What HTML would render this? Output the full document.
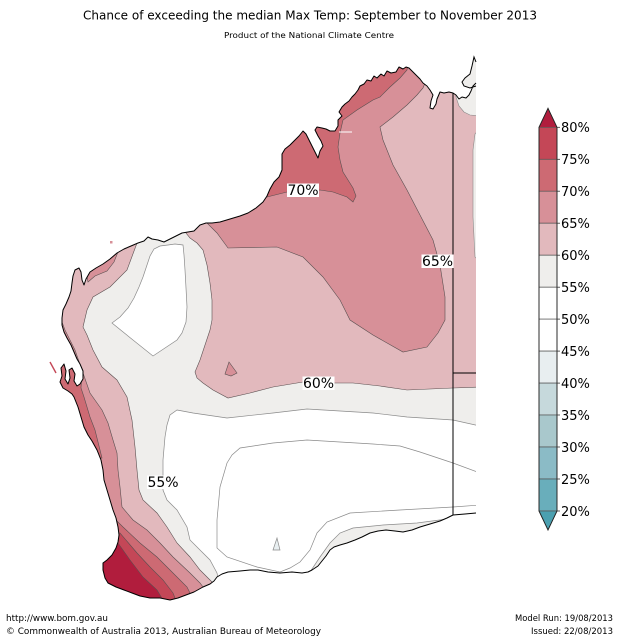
<!DOCTYPE html>
<html><head><meta charset="utf-8"><style>
html,body{margin:0;padding:0;background:#fff;}
svg{display:block;}
text{font-family:"DejaVu Sans","Liberation Sans",sans-serif;fill:#000;}
</style></head><body>
<svg width="619" height="640" viewBox="0 0 619 640" xmlns="http://www.w3.org/2000/svg">
<defs>
<clipPath id="lc"><path d="M476,83 L473,86 L471,91 L469,95 L466,98 L462,97 L459,99 L456,95 L453,93 L449,92 L444,93 L440,92 L437,99 L436,104 L433,109 L430,108 L431,101 L433,95 L430,90 L427,86 L423,83 L420,79 L416,75 L412,71 L409,68 L406,67 L403,69 L399,67 L396,72 L391,73 L387,71 L384,76 L381,74 L377,78 L374,76 L371,81 L367,80 L364,84 L360,86 L358,90 L355,94 L352,97 L349,101 L345,104 L342,107 L339,112 L342,116 L338,120 L338,126 L335,131 L330,131 L326,129 L322,128 L317,127 L315,130 L318,136 L321,141 L323,146 L320,151 L318,158 L315,152 L312,146 L309,140 L306,134 L303,131 L299,136 L295,140 L290,145 L285,149 L282,154 L282,162 L282,170 L279,177 L274,182 L270,189 L267,196 L263,202 L256,208 L248,213 L240,216 L230,219 L220,222 L212,223 L206,223 L200,225 L194,231 L188,232 L182,233 L176,236 L170,239 L164,242 L158,240 L152,239 L148,237 L144,241 L138,243 L131,246 L124,249 L117,253 L110,259 L103,264 L96,268 L90,272 L86,279 L84,285 L82,280 L81,272 L79,268 L75,270 L73,276 L72,283 L71,291 L69,297 L66,304 L63,310 L62,318 L62,325 L64,332 L67,338 L71,345 L74,352 L77,359 L80,364 L83,371 L83,379 L80,384 L77,386 L74,381 L75,374 L72,368 L69,370 L70,378 L68,384 L65,379 L66,371 L64,364 L61,368 L62,376 L60,382 L63,388 L68,391 L72,394 L74,397 L78,407 L81,417 L84,427 L88,435 L92,441 L97,450 L101,460 L103,470 L104,480 L107,490 L110,500 L113,510 L116,518 L118,527 L119,535 L118,542 L116,548 L112,555 L107,560 L103,563 L103,570 L105,578 L108,583 L116,587 L124,590 L132,593 L140,596 L150,598 L160,598 L170,600 L178,598 L186,595 L194,592 L203,587 L210,584 L214,581 L217,577 L222,574 L228,572 L240,571 L250,570 L258,570 L268,572 L280,573 L292,572 L302,573 L308,572 L312,570 L318,566 L322,561 L326,556 L330,550 L334,547 L340,545 L347,543 L355,540 L362,537 L370,533 L378,531 L386,530 L395,531 L403,532 L412,530 L420,527 L430,524 L440,521 L447,518 L453,515 L465,514 L476,513 Z M476,62 L474,57 L472,66 L470,74 L465,78 L462,82 L464,86 L470,88 L476,86 Z"/></clipPath>
</defs>
<rect width="619" height="640" fill="#fff"/>

<!-- title -->
<text x="83" y="19.5" font-size="12" textLength="454" lengthAdjust="spacingAndGlyphs">Chance of exceeding the median Max Temp: September to November 2013</text>
<text x="224" y="38" font-size="8" textLength="170" lengthAdjust="spacingAndGlyphs">Product of the National Climate Centre</text>

<g clip-path="url(#lc)">
 <rect x="0" y="0" width="619" height="640" fill="#efeeec"/>
 <g stroke="#8a8a8a" stroke-width="0.7" fill="#fff">
  <polygon points="112,323 120,317 128,308 134,298 139,287 143,277 147,265 150,256 154,249 160,246 168,245 175,244 183,245 184,255 185,270 186,288 187,307 186,322 182,333 177,340 165,348 153,356 133,340"/>
  <polygon points="177,410 193,413 227,418 273,413 307,409 340,411 373,413 407,417 453,420 480,426 480,513 453,516 447,519 417,523 383,525 353,528 340,533 330,543 320,557 310,572 310,585 219,595 218,578 217,573 210,560 200,550 190,540 187,527 177,510 167,500 163,490 163,460 165,437 167,425 170,415"/>
  <polyline fill="none" points="480,473 453,463 420,452 400,446 373,444 340,442 307,440 273,443 240,448 232,455 227,463 220,487 217,520 217,548 227,557 257,567 280,572 290,568 300,562 310,550 317,533 327,522 350,513 400,510 453,507 480,505"/>
  <polygon fill="#e8eff1" points="273,550 277,538 280,550"/>
 </g>
 <g stroke="#5a4f50" stroke-width="0.6">
  <polygon fill="#e2b9bd" points="186,225 186,233 190,238 197,243 203,250 207,265 210,283 212,300 212,320 210,330 205,345 200,360 195,372 197,378 203,383 213,390 228,398 250,393 273,387 303,382 318,383 353,383 380,386 407,390 430,389 453,388 480,387 480,30 180,30 180,225"/>
  <polygon fill="#efeeec" stroke="#8a8a8a" points="455,40 455,85 456,97 459,106 464,112 470,115 480,116 480,40"/>
  <polygon fill="#efeeec" stroke="#8a8a8a" points="480,128 475,134 473,150 473,217 475,257 480,262"/>
  <polygon fill="#e2b9bd" points="40,236 140,236 137,243 127,270 110,287 93,297 87,310 83,327 87,335 93,350 102,367 117,380 127,397 132,420 135,447 137,470 139,490 143,500 157,513 167,527 177,543 190,557 200,570 210,580 213,583 214,620 40,620"/>
  <polygon fill="#d79098" points="200,215 207,223 217,233 228,248 277,247 303,257 323,277 340,300 350,320 373,335 403,352 427,347 438,333 445,320 445,297 440,265 433,240 420,215 407,190 393,165 383,140 380,127 393,117 407,105 417,95 423,88 425,83 430,45 200,45"/>
  <polygon fill="#d79098" points="225,374 229,362 237,373 231,376"/>
  <polygon fill="#d79098" points="88,282 95,276 107,271 114,262 118,252 85,265"/>
  <polygon fill="#d79098" points="40,318 62,322 65,330 75,350 83,373 90,393 102,410 108,423 113,440 117,453 118,470 120,487 122,507 133,520 147,530 160,543 173,557 190,573 200,583 203,587 207,620 40,620"/>
  <polygon fill="#cd6a73" points="255,200 262,199 267,197 287,192 320,190 333,192 347,197 353,202 356,196 353,188 348,180 343,172 340,160 338,147 340,133 343,120 357,110 373,100 380,97 390,87 400,78 407,70 410,45 255,45"/>
  <polygon fill="#cd6a73" points="40,352 72,352 78,362 82,372 81,388 84,397 90,417 95,430 100,450 102,458 40,470"/>
  <polygon fill="#cd6a73" points="40,515 116,520 123,527 140,543 157,557 170,570 187,587 190,593 195,620 40,620"/>
  <polygon fill="#c44757" points="40,530 120,533 137,553 150,567 163,580 173,593 175,598 180,620 40,620"/>
  <polygon fill="#b11d3d" points="40,540 118,543 130,560 143,577 157,590 163,600 166,620 40,620"/>
 </g>
 <line x1="339" y1="132" x2="352" y2="132" stroke="#fff" stroke-width="1"/>
</g>

<!-- coastline -->
<path fill="none" stroke="#000" stroke-width="1" stroke-linejoin="round" d="M476,83 L473,86 L471,91 L469,95 L466,98 L462,97 L459,99 L456,95 L453,93 L449,92 L444,93 L440,92 L437,99 L436,104 L433,109 L430,108 L431,101 L433,95 L430,90 L427,86 L423,83 L420,79 L416,75 L412,71 L409,68 L406,67 L403,69 L399,67 L396,72 L391,73 L387,71 L384,76 L381,74 L377,78 L374,76 L371,81 L367,80 L364,84 L360,86 L358,90 L355,94 L352,97 L349,101 L345,104 L342,107 L339,112 L342,116 L338,120 L338,126 L335,131 L330,131 L326,129 L322,128 L317,127 L315,130 L318,136 L321,141 L323,146 L320,151 L318,158 L315,152 L312,146 L309,140 L306,134 L303,131 L299,136 L295,140 L290,145 L285,149 L282,154 L282,162 L282,170 L279,177 L274,182 L270,189 L267,196 L263,202 L256,208 L248,213 L240,216 L230,219 L220,222 L212,223 L206,223 L200,225 L194,231 L188,232 L182,233 L176,236 L170,239 L164,242 L158,240 L152,239 L148,237 L144,241 L138,243 L131,246 L124,249 L117,253 L110,259 L103,264 L96,268 L90,272 L86,279 L84,285 L82,280 L81,272 L79,268 L75,270 L73,276 L72,283 L71,291 L69,297 L66,304 L63,310 L62,318 L62,325 L64,332 L67,338 L71,345 L74,352 L77,359 L80,364 L83,371 L83,379 L80,384 L77,386 L74,381 L75,374 L72,368 L69,370 L70,378 L68,384 L65,379 L66,371 L64,364 L61,368 L62,376 L60,382 L63,388 L68,391 L72,394 L74,397 L78,407 L81,417 L84,427 L88,435 L92,441 L97,450 L101,460 L103,470 L104,480 L107,490 L110,500 L113,510 L116,518 L118,527 L119,535 L118,542 L116,548 L112,555 L107,560 L103,563 L103,570 L105,578 L108,583 L116,587 L124,590 L132,593 L140,596 L150,598 L160,598 L170,600 L178,598 L186,595 L194,592 L203,587 L210,584 L214,581 L217,577 L222,574 L228,572 L240,571 L250,570 L258,570 L268,572 L280,573 L292,572 L302,573 L308,572 L312,570 L318,566 L322,561 L326,556 L330,550 L334,547 L340,545 L347,543 L355,540 L362,537 L370,533 L378,531 L386,530 L395,531 L403,532 L412,530 L420,527 L430,524 L440,521 L447,518 L453,515 L465,514 L476,513"/>
<path fill="none" stroke="#000" stroke-width="1" d="M476,62 L474,57 L472,66 L470,74 L465,78 L462,82 L464,86 L470,88 L476,86"/>
<line x1="50" y1="362" x2="56" y2="373" stroke="#c44757" stroke-width="1.4"/>
<rect x="110" y="241" width="2.5" height="2.5" fill="#d79098"/>

<!-- state borders -->
<line x1="453" y1="93" x2="453" y2="515" stroke="#000" stroke-width="1"/>
<line x1="453" y1="373" x2="476" y2="373" stroke="#000" stroke-width="1"/>

<!-- contour labels -->
<g font-size="14">
 <rect x="287" y="183.5" width="32" height="13.5" fill="#fff"/>
 <text x="303" y="195" text-anchor="middle">70%</text>
 <rect x="421.5" y="254.5" width="32" height="13.5" fill="#fff"/>
 <text x="437.5" y="266" text-anchor="middle">65%</text>
 <rect x="302.5" y="376.5" width="32" height="13.5" fill="#fff"/>
 <text x="318.5" y="388" text-anchor="middle">60%</text>
 <rect x="147" y="475.5" width="32" height="13.5" fill="#fff"/>
 <text x="163" y="487" text-anchor="middle">55%</text>
</g>

<!-- colorbar -->
<g stroke="#555" stroke-width="0.7">
 <path d="M539,127.3 L548,108.3 L557,127.3 Z" fill="#b11d3d"/>
 <rect x="539" y="127.3" width="18" height="32" fill="#c44757"/>
 <rect x="539" y="159.3" width="18" height="32" fill="#cd6a73"/>
 <rect x="539" y="191.2" width="18" height="32" fill="#d79098"/>
 <rect x="539" y="223.2" width="18" height="32" fill="#e2b9bd"/>
 <rect x="539" y="255.2" width="18" height="32" fill="#efeeec"/>
 <rect x="539" y="287.2" width="18" height="32" fill="#ffffff"/>
 <rect x="539" y="319.1" width="18" height="32" fill="#ffffff"/>
 <rect x="539" y="351.1" width="18" height="32" fill="#e8eef0"/>
 <rect x="539" y="383.1" width="18" height="32" fill="#c6d9dc"/>
 <rect x="539" y="415" width="18" height="32" fill="#a9c8cc"/>
 <rect x="539" y="447" width="18" height="32" fill="#8bbbc6"/>
 <rect x="539" y="479" width="18" height="32" fill="#69aebb"/>
 <path d="M539,511 L548,530 L557,511 Z" fill="#4ba0b0"/>
</g>
<path d="M539,127.3 L548,108.3 L557,127.3 L557,511 L548,530 L539,511 Z" fill="none" stroke="#222" stroke-width="0.9"/>
<g stroke="#333" stroke-width="0.8">
 <line x1="557" y1="127.3" x2="560" y2="127.3"/><line x1="557" y1="159.3" x2="560" y2="159.3"/>
 <line x1="557" y1="191.2" x2="560" y2="191.2"/><line x1="557" y1="223.2" x2="560" y2="223.2"/>
 <line x1="557" y1="255.2" x2="560" y2="255.2"/><line x1="557" y1="287.2" x2="560" y2="287.2"/>
 <line x1="557" y1="319.1" x2="560" y2="319.1"/><line x1="557" y1="351.1" x2="560" y2="351.1"/>
 <line x1="557" y1="383.1" x2="560" y2="383.1"/><line x1="557" y1="415" x2="560" y2="415"/>
 <line x1="557" y1="447" x2="560" y2="447"/><line x1="557" y1="479" x2="560" y2="479"/>
 <line x1="557" y1="511" x2="560" y2="511"/>
</g>
<g font-size="13">
 <text x="561" y="132">80%</text>
 <text x="561" y="164">75%</text>
 <text x="561" y="196">70%</text>
 <text x="561" y="228">65%</text>
 <text x="561" y="260">60%</text>
 <text x="561" y="292">55%</text>
 <text x="561" y="324">50%</text>
 <text x="561" y="356">45%</text>
 <text x="561" y="388">40%</text>
 <text x="561" y="420">35%</text>
 <text x="561" y="452">30%</text>
 <text x="561" y="484">25%</text>
 <text x="561" y="516">20%</text>
</g>

<!-- footer -->
<g font-size="8.5">
 <text x="6" y="621" textLength="102" lengthAdjust="spacingAndGlyphs">http://www.bom.gov.au</text>
 <text x="6" y="634" textLength="315" lengthAdjust="spacingAndGlyphs">©  Commonwealth of Australia 2013, Australian Bureau of Meteorology</text>
 <text x="515" y="621" textLength="98" lengthAdjust="spacingAndGlyphs">Model Run: 19/08/2013</text>
 <text x="531" y="634" textLength="82" lengthAdjust="spacingAndGlyphs">Issued: 22/08/2013</text>
</g>
</svg>
</body></html>
